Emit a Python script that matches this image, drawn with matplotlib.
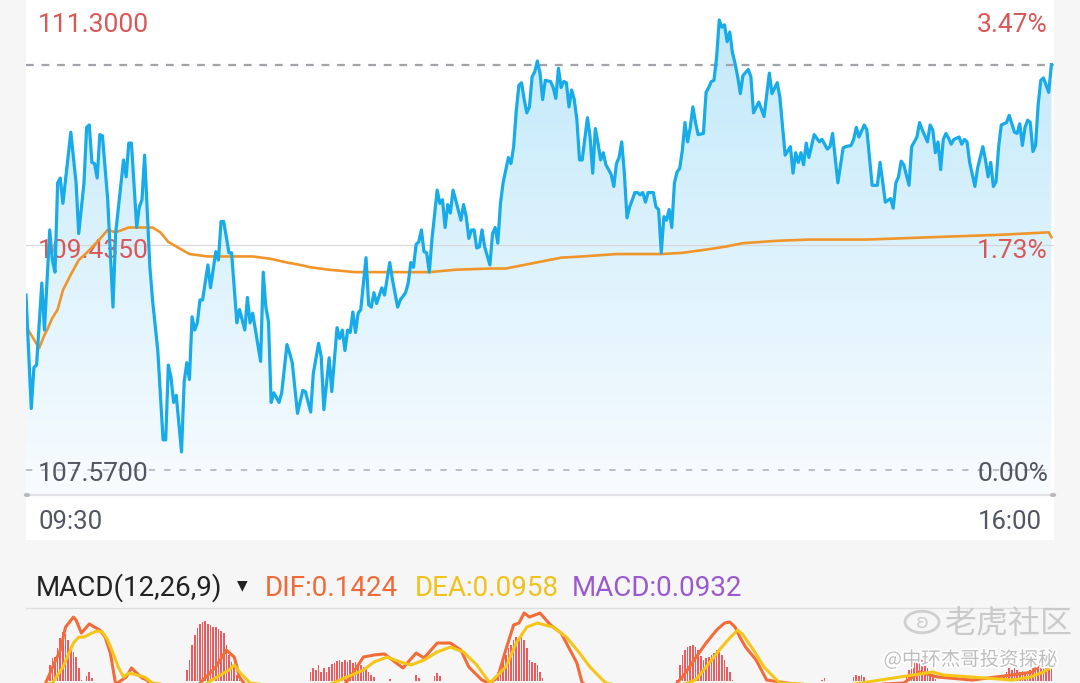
import numpy as np
import matplotlib.pyplot as plt
from matplotlib.patches import Rectangle, Circle
from matplotlib.lines import Line2D
import matplotlib.patheffects as pe

plt.rcParams['font.family'] = ['Roboto', 'DejaVu Sans']

# intraday price, minutes after 09:30
price_min = [0, 2, 3, 4, 6, 7, 9, 10, 11, 12, 13, 14, 17, 19, 20, 22, 23, 24, 25, 26,
             27, 28, 29, 31, 33, 34, 37, 38, 39, 40, 42, 43, 44, 45, 47, 48, 50, 52, 53, 54,
             55, 56, 57, 59, 60, 61, 62, 63, 64, 65, 66, 67, 69, 70, 72, 73, 74, 75, 77, 78,
             80, 81, 83, 84, 85, 86, 89, 90, 91, 92, 93, 94, 96, 97, 99, 100, 101, 103, 105, 106,
             108, 109, 111, 112, 113, 115, 116, 118, 119, 120, 121, 122, 123, 124, 125, 126, 127, 129, 130, 131,
             132, 133, 135, 136, 138, 139, 141, 142, 144, 145, 146, 147, 148, 149, 150, 151, 152, 153, 154, 156,
             157, 158, 159, 160, 161, 162, 163, 165, 166, 167, 168, 169, 170, 171, 172, 173, 174, 176, 177, 178,
             179, 180, 181, 183, 184, 185, 186, 187, 188, 189, 190, 191, 192, 193, 194, 195, 196, 197, 199, 200,
             201, 202, 203, 204, 205, 206, 207, 208, 209, 210, 211, 213, 214, 215, 216, 217, 218, 219, 220, 221,
             222, 223, 224, 225, 226, 227, 228, 229, 231, 232, 233, 234, 235, 236, 237, 238, 239, 240, 241, 242,
             243, 244, 245, 246, 247, 248, 249, 250, 251, 252, 253, 254, 255, 257, 258, 259, 260, 261, 262, 263,
             264, 265, 266, 267, 268, 269, 270, 271, 272, 274, 275, 276, 278, 280, 282, 283, 285, 286, 288, 290,
             291, 292, 293, 294, 295, 296, 297, 299, 301, 302, 304, 305, 306, 308, 310, 311, 313, 314, 315, 316,
             318, 319, 320, 321, 323, 324, 325, 326, 328, 329, 330, 331, 332, 333, 335, 336, 338, 339, 340, 342,
             343, 344, 345, 346, 347, 348, 349, 350, 351, 352, 354, 355, 356, 357, 358, 360, 361, 363, 364, 365,
             366, 367, 368, 369, 370, 372, 373, 375, 376, 377, 378, 379, 380, 381, 382, 383, 384, 385, 386, 388,
             389]
price = [109.02, 108.08, 108.42, 108.44, 109.12, 108.73, 109.56, 109.31, 109.21, 109.95, 109.99, 109.78, 110.37, 109.95, 109.53, 109.95, 110.41, 110.43, 110.12, 110.11,
         109.99, 110.35, 110.34, 109.81, 108.92, 109.53, 110.14, 110.00, 110.28, 110.28, 109.58, 109.75, 109.81, 110.18, 109.25, 108.98, 108.56, 107.82, 107.82, 108.44,
         108.34, 108.13, 108.19, 107.72, 108.30, 108.46, 108.32, 108.84, 108.73, 108.79, 108.98, 108.98, 109.27, 109.08, 109.38, 109.31, 109.63, 109.63, 109.37, 109.37,
         108.79, 108.90, 108.73, 109.00, 108.79, 108.87, 108.47, 109.21, 108.92, 108.80, 108.13, 108.21, 108.13, 108.21, 108.61, 108.54, 108.46, 108.04, 108.23, 108.22,
         108.05, 108.37, 108.62, 108.51, 108.07, 108.50, 108.22, 108.75, 108.66, 108.73, 108.56, 108.73, 108.71, 108.88, 108.71, 108.87, 108.90, 109.33, 108.94, 108.92,
         109.04, 108.95, 109.08, 109.02, 109.29, 109.15, 108.92, 108.98, 109.04, 109.12, 109.29, 109.25, 109.44, 109.46, 109.56, 109.38, 109.37, 109.21, 109.48, 109.89,
         109.78, 109.81, 109.58, 109.77, 109.70, 109.89, 109.81, 109.64, 109.77, 109.67, 109.49, 109.56, 109.56, 109.41, 109.42, 109.56, 109.42, 109.27, 109.53, 109.58,
         109.45, 109.78, 109.95, 110.16, 110.11, 110.25, 110.55, 110.76, 110.78, 110.64, 110.53, 110.58, 110.83, 110.87, 110.96, 110.86, 110.64, 110.80, 110.79, 110.74,
         110.65, 110.90, 110.74, 110.79, 110.78, 110.58, 110.72, 110.64, 110.47, 110.14, 110.14, 110.49, 110.33, 110.03, 110.40, 110.28, 110.14, 110.20, 110.10, 110.06,
         110.02, 109.92, 110.11, 110.16, 110.29, 110.03, 109.66, 109.75, 109.87, 109.87, 109.85, 109.87, 109.79, 109.87, 109.87, 109.87, 109.75, 109.73, 109.37, 109.67,
         109.64, 109.73, 109.58, 109.95, 110.04, 110.07, 110.22, 110.45, 110.29, 110.41, 110.58, 110.45, 110.35, 110.36, 110.70, 110.74, 110.79, 110.80, 110.99, 111.30,
         111.24, 111.26, 111.12, 111.20, 111.03, 110.94, 110.83, 110.69, 110.84, 110.89, 110.83, 110.53, 110.62, 110.50, 110.86, 110.69, 110.78, 110.66, 110.18, 110.25,
         110.03, 110.20, 110.12, 110.20, 110.10, 110.28, 110.16, 110.35, 110.29, 110.31, 110.23, 110.25, 110.36, 109.95, 110.24, 110.25, 110.26, 110.31, 110.41, 110.33,
         110.43, 110.39, 110.16, 109.93, 109.93, 110.12, 109.96, 109.79, 109.82, 109.74, 109.95, 110.00, 110.13, 110.10, 109.93, 110.25, 110.33, 110.45, 110.39, 110.29,
         110.43, 110.39, 110.20, 110.29, 110.06, 110.31, 110.36, 110.32, 110.27, 110.31, 110.33, 110.27, 110.31, 110.29, 110.12, 109.92, 110.07, 110.25, 110.14, 110.00,
         110.12, 109.92, 109.96, 110.25, 110.43, 110.45, 110.51, 110.37, 110.36, 110.44, 110.26, 110.41, 110.47, 110.45, 110.21, 110.26, 110.60, 110.80, 110.82, 110.70,
         110.93]

# average price line
avg_min = [0, 5, 7, 8, 10, 12, 14, 17, 20, 23, 27, 31, 34, 39, 43, 48, 51, 54, 58, 62,
           69, 79, 86, 93, 99, 104, 108, 115, 125, 138, 153, 163, 176, 182, 189, 196, 203, 211, 224, 241,
           249, 259, 265, 272, 285, 297, 319, 344, 370, 388, 389]
avg = [108.76, 108.58, 108.69, 108.73, 108.83, 108.90, 109.06, 109.19, 109.31, 109.37, 109.46, 109.56, 109.54, 109.58, 109.58, 109.58, 109.54, 109.46, 109.41, 109.36,
       109.34, 109.34, 109.34, 109.32, 109.29, 109.27, 109.25, 109.23, 109.21, 109.21, 109.21, 109.23, 109.24, 109.24, 109.27, 109.30, 109.33, 109.34, 109.36, 109.36,
       109.37, 109.40, 109.42, 109.45, 109.47, 109.48, 109.48, 109.50, 109.52, 109.54, 109.50]

prev_close = 107.57
mid_price = 109.435
top_price = 111.30
time_labels = ['09:30', '16:00']

# MACD panel (only its upper part is visible)
dif_min = [0, 7, 13, 15, 18, 19, 21, 22, 24, 26, 28, 30, 32, 34, 38, 40, 42, 44, 46, 47,
           60, 72, 76, 79, 81, 83, 100, 120, 123, 128, 132, 136, 139, 143, 148, 151, 156, 161, 165, 168,
           173, 176, 179, 182, 185, 187, 189, 191, 195, 199, 203, 206, 209, 211, 230, 245, 249, 254, 258, 262,
           265, 267, 269, 271, 273, 277, 281, 300, 333, 339, 346, 359, 374, 382, 385, 389]
dif = [-0.10, -0.03, 0.209, 0.363, 0.430, 0.410, 0.323, 0.343, 0.384, 0.363, 0.343, 0.296, 0.189, -0.02, 0.028, 0.089, 0.055, 0.022, 0.008, -0.02,
       -0.12, 0.095, 0.209, 0.162, 0.028, -0.02, -0.10, -0.04, 0.028, 0.162, 0.176, 0.183, 0.142, 0.089, 0.189, 0.156, 0.256, 0.256, 0.209, 0.095,
       0.008, -0.012, 0.028, 0.209, 0.377, 0.390, 0.457, 0.430, 0.457, 0.377, 0.323, 0.223, 0.122, -0.012, -0.15, -0.05, 0.028, 0.156, 0.256, 0.343,
       0.390, 0.397, 0.363, 0.290, 0.229, 0.142, 0.008, -0.04, -0.012, 0.062, 0.028, 0.008, 0.042, 0.062, 0.129, 0.1424]
dea_min = [0, 10, 14, 18, 20, 22, 25, 27, 29, 31, 33, 35, 37, 39, 42, 45, 48, 65, 77, 79,
           81, 85, 110, 128, 132, 137, 142, 146, 151, 156, 161, 166, 171, 176, 182, 186, 190, 194, 200, 205,
           210, 214, 218, 220, 240, 254, 258, 263, 267, 270, 272, 276, 280, 284, 286, 310, 344, 348, 359, 374,
           381, 386, 389]
dea = [-0.05, -0.012, 0.095, 0.256, 0.296, 0.296, 0.323, 0.337, 0.330, 0.276, 0.189, 0.095, 0.028, 0.055, 0.042, 0.028, -0.012, -0.05, 0.075, 0.109,
       0.062, -0.012, -0.06, 0.075, 0.129, 0.162, 0.129, 0.109, 0.142, 0.196, 0.229, 0.196, 0.109, -0.012, 0.095, 0.256, 0.363, 0.390, 0.363, 0.296,
       0.189, 0.095, 0.022, -0.012, -0.08, 0.008, 0.095, 0.209, 0.290, 0.343, 0.310, 0.209, 0.095, 0.022, -0.012, -0.03, 0.062, 0.042, 0.028, 0.008,
       0.028, 0.062, 0.0958]
hist_min = [8, 9, 10, 11, 12, 13, 14, 15, 16, 17, 18, 19, 20, 21, 23, 24, 25,
            61, 62, 63, 64, 65, 66, 67, 68, 69, 70, 71, 72, 73, 74, 75, 76, 77, 78, 79, 80, 81,
            108, 109, 110, 111, 112, 113, 114, 115, 116, 117, 118, 119, 120, 121, 122, 123, 124, 125, 126, 127,
            128, 129, 130, 131, 132, 138, 148, 149, 155, 156, 157,
            178, 179, 180, 181, 182, 183, 184, 185, 186, 187, 188, 189, 190, 191, 192, 193, 194, 195, 196,
            247, 248, 249, 250, 251, 252, 253, 254, 255, 256, 257, 258, 259, 260, 261, 262, 263, 264, 265, 266, 267, 268,
            302, 303, 314, 315, 316, 317, 318,
            334, 335, 336, 337, 338, 339, 340, 341, 342, 343, 344, 345,
            371, 372, 373, 374, 375, 376, 377, 378, 379, 380, 381, 382, 383, 384, 385, 386, 387, 388, 389]
hist = [0.010, 0.109, 0.156, 0.162, 0.223, 0.290, 0.330, 0.317, 0.276, 0.236, 0.196, 0.162, 0.089, 0.008, 0.035, 0.062, 0.022,
        0.075, 0.142, 0.243, 0.310, 0.357, 0.384, 0.397, 0.404, 0.384, 0.377, 0.363, 0.363, 0.350, 0.337, 0.323, 0.243, 0.176, 0.129, 0.095, 0.042, 0.008,
        0.062, 0.089, 0.075, 0.109, 0.062, 0.089, 0.062, 0.095, 0.116, 0.122, 0.136, 0.142, 0.129, 0.142, 0.129, 0.142, 0.122, 0.129, 0.109, 0.109,
        0.095, 0.089, 0.062, 0.042, 0.028, 0.015, 0.042, 0.022, 0.035, 0.055, 0.035,
        0.035, 0.062, 0.095, 0.142, 0.176, 0.223, 0.243, 0.276, 0.296, 0.290, 0.303, 0.276, 0.223, 0.142, 0.129, 0.122, 0.109, 0.062, 0.022,
        0.008, 0.109, 0.176, 0.209, 0.229, 0.236, 0.243, 0.229, 0.209, 0.169, 0.142, 0.156, 0.162, 0.176, 0.189, 0.209, 0.196, 0.176, 0.142, 0.095, 0.062, 0.008,
        0.008, 0.022, 0.028, 0.042, 0.035, 0.042, 0.028,
        0.042, 0.075, 0.109, 0.129, 0.156, 0.162, 0.142, 0.122, 0.089, 0.062, 0.035, 0.015,
        0.035, 0.062, 0.089, 0.075, 0.089, 0.075, 0.062, 0.069, 0.055, 0.062, 0.075, 0.089, 0.095, 0.095, 0.102, 0.109, 0.116, 0.122, 0.093]

W, H = 1080, 683
fig = plt.figure(figsize=(W / 100, H / 100), dpi=100)
fig.patch.set_facecolor('#f6f6f6')


def fx(x):
    return x / W


def fy(y):
    return 1 - y / H


# white panels
fig.add_artist(Rectangle((fx(26), fy(540)), 1028 / W, 540 / H, transform=fig.transFigure,
                         facecolor='white', edgecolor='none', zorder=0))

# main price chart, 107.57 sits at y=470px and 111.30 at y=20px
pp = (top_price - prev_close) / 450.0
ylo = prev_close - 25 * pp
yhi = top_price + 20 * pp
ax = fig.add_axes([fx(26), fy(495), 1028 / W, 495 / H])
ax.set_facecolor('white')

grad = np.linspace(0, 1, 256).reshape(-1, 1, 1)
c_top = np.array([192, 232, 250]) / 255
c_bot = np.array([248, 252, 255]) / 255
img = c_top + (c_bot - c_top) * grad
im = ax.imshow(img, extent=[0, 390, ylo, yhi], aspect='auto', origin='upper', zorder=1)
poly = ax.fill_between(price_min, price, ylo, color='none', lw=0)
im.set_clip_path(poly.get_paths()[0], transform=ax.transData)

ax.axhline(mid_price, color='#d6d6d6', lw=0.8, zorder=2)
ax.axhline(prev_close, color='#b7b9c0', lw=1.3, dashes=(3.5, 5), zorder=2)
ax.axhline(price[-1], color='#a2a3aa', lw=1.6, dashes=(3.5, 3.5), zorder=2)

ax.plot(avg_min, avg, color='#f0952a', lw=1.9, zorder=4, solid_joinstyle='round')
ax.plot(price_min, price, color='#18abe9', lw=2.3, zorder=5, solid_joinstyle='round')
ax.set_xlim(0, 390)
ax.set_ylim(ylo, yhi)
ax.axis('off')

red = '#d95757'
gray = '#525662'
lab = dict(fontsize=19, va='center', transform=fig.transFigure, zorder=3, clip_on=False)
ax.text(fx(38), fy(25), '%.4f' % top_price, color=red, ha='left', **lab)
ax.text(fx(1048), fy(25), '%.2f%%' % ((top_price / prev_close - 1) * 100), color=red, ha='right', **lab)
ax.text(fx(38), fy(251), '%.4f' % mid_price, color=red, ha='left', **lab)
ax.text(fx(1048), fy(251), '%.2f%%' % ((mid_price / prev_close - 1) * 100), color=red, ha='right', **lab)
ax.text(fx(38), fy(474), '%.4f' % prev_close, color=gray, ha='left', **lab)
ax.text(fx(1048), fy(474), '0.00%', color=gray, ha='right', **lab)

# bottom axis line with end dots
fig.add_artist(Line2D([fx(26), fx(1054)], [fy(495), fy(495)], color='#e4e4e6', lw=1.6,
                      transform=fig.transFigure, zorder=6))
for xd in (27, 1053):
    fig.add_artist(Circle((fx(xd), fy(495)), 3.2 / W, transform=fig.transFigure,
                          facecolor='#b9b9bd', edgecolor='none', zorder=7))
fig.text(fx(38), fy(522), time_labels[0], color=gray, fontsize=18.5, ha='left', va='center')
fig.text(fx(1042), fy(522), time_labels[1], color=gray, fontsize=18.5, ha='right', va='center')

# MACD header
fig.text(fx(36), fy(588), 'MACD(12,26,9)', color='#222222', fontsize=20, ha='left', va='center')
fig.text(fx(242), fy(585), '▼', color='#222222', fontsize=10, ha='center', va='center', family='DejaVu Sans')
fig.text(fx(265), fy(588), 'DIF:0.1424', color='#f06a38', fontsize=20, ha='left', va='center')
fig.text(fx(415), fy(588), 'DEA:0.0958', color='#efc21c', fontsize=20, ha='left', va='center')
fig.text(fx(572), fy(588), 'MACD:0.0932', color='#9b59d0', fontsize=20, ha='left', va='center')
fig.add_artist(Line2D([fx(26), fx(1054)], [fy(608), fy(608)], color='#dedede', lw=0.9,
                      transform=fig.transFigure))

# MACD panel
ax2 = fig.add_axes([fx(26), 0, 1028 / W, 73 / H])
ax2.set_facecolor('white')
ax2.bar(hist_min, hist, width=0.62, color='#ee5a5e', zorder=1)
ax2.plot(dif_min, dif, color='#f26b38', lw=2.2, zorder=2)
ax2.plot(dea_min, dea, color='#f5c518', lw=2.2, zorder=3)
ax2.set_xlim(0, 390)
ax2.set_ylim(-0.0117, 0.4774)
ax2.axis('off')

# watermark
fig.add_artist(Circle((fx(922), fy(622)), 17 / W, transform=fig.transFigure,
                      facecolor='none', edgecolor='#cfcfcf', lw=2, zorder=10))
fig.text(fx(922), fy(623), 'ʚ', color='#cfcfcf', fontsize=14, ha='center', va='center',
         family='DejaVu Sans', zorder=10)
fig.text(fx(945), fy(624), '老虎社区', color='#cacaca', fontsize=23, ha='left', va='center',
         family=['Noto Sans CJK SC', 'DejaVu Sans'], zorder=10)
fig.text(fx(1058), fy(660), '@中环杰哥投资探秘', color='#bdbdbd', fontsize=14, ha='right', va='center',
         family=['Noto Sans CJK SC', 'DejaVu Sans'], zorder=10,
         path_effects=[pe.withStroke(linewidth=2.5, foreground='white')])

fig.savefig('out.png', dpi=100, facecolor=fig.get_facecolor())
